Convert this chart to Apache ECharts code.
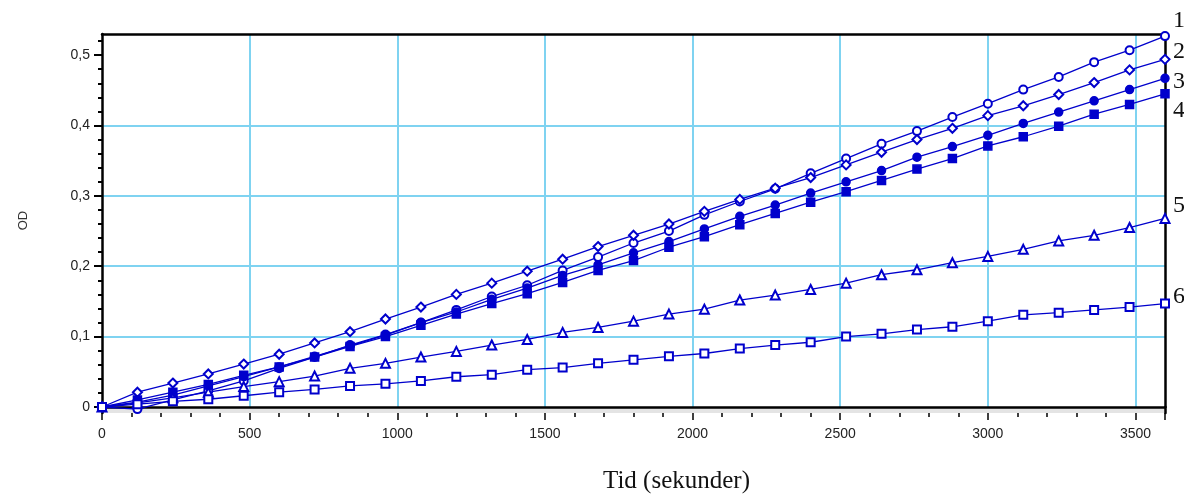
<!DOCTYPE html>
<html>
<head>
<meta charset="utf-8">
<script src="https://cdn.jsdelivr.net/npm/echarts@6/dist/echarts.min.js"></script>
<style>
html,body{margin:0;padding:0;background:#fff;}
#chart{width:1184px;height:495px;}
</style>
</head>
<body>
<div id="chart"></div>
<script>
// Time (seconds)
var times = [0,120,240,360,480,600,720,840,960,1080,1200,1320,1440,1560,1680,1800,1920,2040,2160,2280,2400,2520,2640,2760,2880,3000,3120,3240,3360,3480,3600];
// Series values (OD)
var s1 = [0,-0.003,0.010,0.023,0.037,0.055,0.071,0.088,0.103,0.120,0.138,0.157,0.173,0.194,0.213,0.233,0.250,0.273,0.292,0.310,0.332,0.353,0.374,0.392,0.412,0.431,0.451,0.469,0.490,0.507,0.527];
var s2 = [0,0.021,0.034,0.047,0.061,0.075,0.091,0.107,0.125,0.142,0.160,0.176,0.193,0.210,0.228,0.244,0.260,0.278,0.295,0.311,0.326,0.344,0.362,0.380,0.396,0.414,0.428,0.444,0.461,0.479,0.494];
var s3 = [0,0.007,0.017,0.030,0.043,0.057,0.072,0.087,0.102,0.120,0.135,0.153,0.169,0.187,0.202,0.219,0.235,0.253,0.271,0.287,0.304,0.320,0.336,0.355,0.370,0.386,0.403,0.419,0.435,0.451,0.467];
var s4 = [0,0.010,0.021,0.032,0.045,0.057,0.071,0.086,0.100,0.116,0.132,0.147,0.161,0.177,0.194,0.208,0.227,0.242,0.259,0.275,0.291,0.306,0.322,0.338,0.353,0.371,0.384,0.399,0.416,0.430,0.445];
var s5 = [0,0.006,0.013,0.021,0.029,0.036,0.044,0.055,0.062,0.071,0.079,0.088,0.096,0.106,0.113,0.122,0.132,0.139,0.152,0.159,0.167,0.176,0.188,0.195,0.205,0.214,0.224,0.236,0.244,0.255,0.268];
var s6 = [0,0.004,0.008,0.011,0.016,0.021,0.025,0.030,0.033,0.037,0.043,0.046,0.053,0.056,0.062,0.067,0.072,0.076,0.083,0.088,0.092,0.100,0.104,0.110,0.114,0.122,0.131,0.134,0.138,0.142,0.147];
var seriesNames = ['1','2','3','4','5','6'];
var seriesSymbols = ['emptyCircle','emptyDiamond','circle','rect','emptyTriangle','emptyRect'];
var yTickValues = [0,0.1,0.2,0.3,0.4,0.5];

var allSeries = [s1,s2,s3,s4,s5,s6];
var symbolSizes = [8,9,8,8,9,8];
var blue = '#0000cc';
var gridBlue = '#7fd3f1';

function pairs(vals){ return times.map(function(t,i){ return [t, vals[i]]; }); }

var chart = echarts.init(document.getElementById('chart'));
var option = {
  animation: false,
  backgroundColor: '#fff',
  grid: [
    {left:102, right:19, top:34, bottom:88, show:false},
    {left:102, right:19, top:407, bottom:81, show:true, backgroundColor:'#e4e4e4', borderWidth:0}
  ],
  xAxis: [
    {type:'value', gridIndex:0, min:0, max:3600, interval:500, position:'bottom',
     axisLine:{show:true, onZero:false, lineStyle:{color:'#000', width:2.5}},
     axisTick:{show:false}, axisLabel:{show:false},
     splitLine:{show:true, showMaxLine:false, showMinLine:false, lineStyle:{color:gridBlue, width:2}}},
    {type:'value', gridIndex:0, min:0, max:3600, position:'top',
     axisLine:{show:true, onZero:false, lineStyle:{color:'#000', width:2.5}},
     axisTick:{show:false}, axisLabel:{show:false}, splitLine:{show:false}},
    {type:'value', gridIndex:1, min:0, max:3600, interval:500, position:'bottom',
     axisLine:{show:false, onZero:false},
     axisTick:{show:true, length:7, lineStyle:{color:'#000', width:1.5}},
     minorTick:{show:true, splitNumber:5, length:4, lineStyle:{color:'#000', width:1.5}},
     axisLabel:{show:true, fontSize:14, color:'#222', margin:14, fontFamily:'Liberation Sans', showMaxLabel:false,
       formatter:function(v){ return String(Math.round(v)); }},
     splitLine:{show:false},
     name:'Tid (sekunder)', nameLocation:'middle', nameGap:56,
     nameTextStyle:{fontFamily:'Liberation Serif', fontSize:25, color:'#111', padding:[0,0,0,86]}}
  ],
  yAxis: [
    {type:'value', gridIndex:0, min:0, max:0.53, interval:0.1, position:'left',
     axisLine:{show:true, onZero:false, lineStyle:{color:'#000', width:2.5}},
     axisTick:{show:true, length:8, customValues:yTickValues, lineStyle:{color:'#000', width:2}},
     minorTick:{show:true, splitNumber:5, length:4, lineStyle:{color:'#000', width:2}},
     axisLabel:{show:true, customValues:yTickValues, fontSize:14, color:'#222', margin:12, fontFamily:'Liberation Sans',
       formatter:function(v){ return v===0 ? '0' : v.toFixed(1).replace('.', ','); }},
     splitLine:{show:true, showMinLine:false, showMaxLine:false, lineStyle:{color:gridBlue, width:2}},
     name:'OD', nameLocation:'middle', nameGap:72, nameRotate:90,
     nameTextStyle:{fontFamily:'Liberation Sans', fontSize:13, color:'#333'}},
    {type:'value', gridIndex:0, min:0, max:0.53, position:'right',
     axisLine:{show:true, onZero:false, lineStyle:{color:'#000', width:2.5}},
     axisTick:{show:false}, axisLabel:{show:false}, splitLine:{show:false}},
    {type:'value', gridIndex:1, min:-0.01, max:0, position:'left',
     axisLine:{show:true, onZero:false, lineStyle:{color:'#000', width:2.5}},
     axisTick:{show:false}, axisLabel:{show:false}, splitLine:{show:false}},
    {type:'value', gridIndex:1, min:-0.01, max:0, position:'right',
     axisLine:{show:true, onZero:false, lineStyle:{color:'#000', width:2.5}},
     axisTick:{show:false}, axisLabel:{show:false}, splitLine:{show:false}}
  ],
  graphic: [
    {type:'text', left:1173, top:9,   style:{text:seriesNames[0], font:'24px "Liberation Serif"', fill:'#111'}},
    {type:'text', left:1173, top:40,  style:{text:seriesNames[1], font:'24px "Liberation Serif"', fill:'#111'}},
    {type:'text', left:1173, top:70,  style:{text:seriesNames[2], font:'24px "Liberation Serif"', fill:'#111'}},
    {type:'text', left:1173, top:99,  style:{text:seriesNames[3], font:'24px "Liberation Serif"', fill:'#111'}},
    {type:'text', left:1173, top:194, style:{text:seriesNames[4], font:'24px "Liberation Serif"', fill:'#111'}},
    {type:'text', left:1173, top:285, style:{text:seriesNames[5], font:'24px "Liberation Serif"', fill:'#111'}}
  ],
  series: allSeries.map(function(vals, i){
    return {
      name: seriesNames[i], type:'line', xAxisIndex:0, yAxisIndex:0, clip:false,
      data: pairs(vals),
      symbol: seriesSymbols[i], symbolSize: symbolSizes[i], showAllSymbol:true,
      lineStyle:{color:blue, width:1.3},
      itemStyle:{color:blue, borderColor:blue, borderWidth:1.5},
      emphasis:{disabled:true}, z: 3
    };
  })
};
chart.setOption(option);
</script>
</body>
</html>
